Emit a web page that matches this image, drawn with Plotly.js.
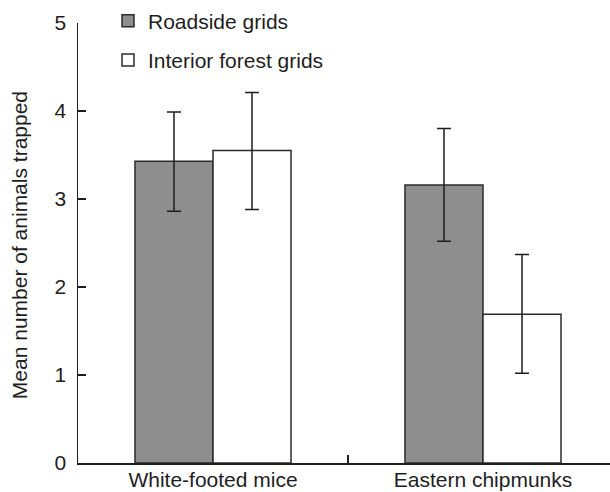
<!DOCTYPE html>
<html>
<head>
<meta charset="utf-8">
<script src="https://cdn.plot.ly/plotly-3.0.1.min.js"></script>
<style>html,body{margin:0;padding:0;background:#fff;}#chart{width:610px;height:492px;}</style>
</head>
<body>
<div id="chart"></div>
<script>
var categories = ["White-footed mice", "Eastern chipmunks"];
var roadsideMean = [3.43, 3.16];
var roadsideErrPlus = [0.56, 0.64];
var roadsideErrMinus = [0.57, 0.64];
var interiorMean = [3.55, 1.69];
var interiorErrPlus = [0.66, 0.68];
var interiorErrMinus = [0.67, 0.67];
var seriesNames = ["Roadside grids", "Interior forest grids"];
var yTicks = [0, 1, 2, 3, 4, 5];
var yTitle = "Mean number of animals trapped";

var FONT = "Liberation Sans, Arial, Helvetica, sans-serif";
var INK = "#1e1e1e";
var FS = 21;

function errCfg(plus, minus) {
  return {type: "data", symmetric: false, array: plus, arrayminus: minus,
          color: INK, thickness: 1.5, width: 7};
}

var traces = [
  {type: "bar", name: seriesNames[0], x: categories, y: roadsideMean,
   legendgroup: "a",
   marker: {color: "#8d8e90", line: {color: "#2b2b2b", width: 1.5}},
   error_y: errCfg(roadsideErrPlus, roadsideErrMinus)},
  {type: "bar", name: seriesNames[1], x: categories, y: interiorMean,
   legendgroup: "b",
   marker: {color: "#ffffff", line: {color: "#2b2b2b", width: 1.5}},
   error_y: errCfg(interiorErrPlus, interiorErrMinus)}
];

var layout = {
  width: 610, height: 492,
  margin: {l: 78, r: 0, t: 23, b: 29, pad: 0, autoexpand: false},
  paper_bgcolor: "#ffffff", plot_bgcolor: "#ffffff",
  font: {family: FONT, size: FS, color: INK},
  barmode: "group", bargap: 0.422, bargroupgap: 0,
  showlegend: true,
  legend: {x: 0.0564, xanchor: "left", xref: "paper", y: 0.999, yref: "container", yanchor: "top",
           traceorder: "grouped", tracegroupgap: 9,
           font: {family: FONT, size: FS, color: INK}, bgcolor: "rgba(0,0,0,0)", borderwidth: 0},
  xaxis: {type: "category", range: [-0.5, 1.4704], showline: true, linecolor: INK, linewidth: 1.5,
          ticks: "inside", tickson: "boundaries", ticklen: 8, tickwidth: 1.3, tickcolor: INK,
          showgrid: false, zeroline: false, fixedrange: true, ticklabelstandoff: -3,
          tickfont: {family: FONT, size: FS, color: INK}},
  yaxis: {range: [0, 5], tickvals: yTicks, ticktext: yTicks.map(String),
          showline: true, linecolor: INK, linewidth: 1.5,
          ticks: "inside", ticklen: 8, tickwidth: 1.3, tickcolor: INK,
          showgrid: false, zeroline: false, fixedrange: true, ticklabelstandoff: 6,
          tickfont: {family: FONT, size: FS, color: INK}},
  annotations: [{text: yTitle, xref: "paper", yref: "paper", x: -0.111, y: 0.495,
                 xanchor: "center", yanchor: "middle", textangle: -90, showarrow: false,
                 font: {family: FONT, size: FS, color: INK}}]
};

Plotly.newPlot("chart", traces, layout, {displayModeBar: false, staticPlot: true});
</script>
</body>
</html>
